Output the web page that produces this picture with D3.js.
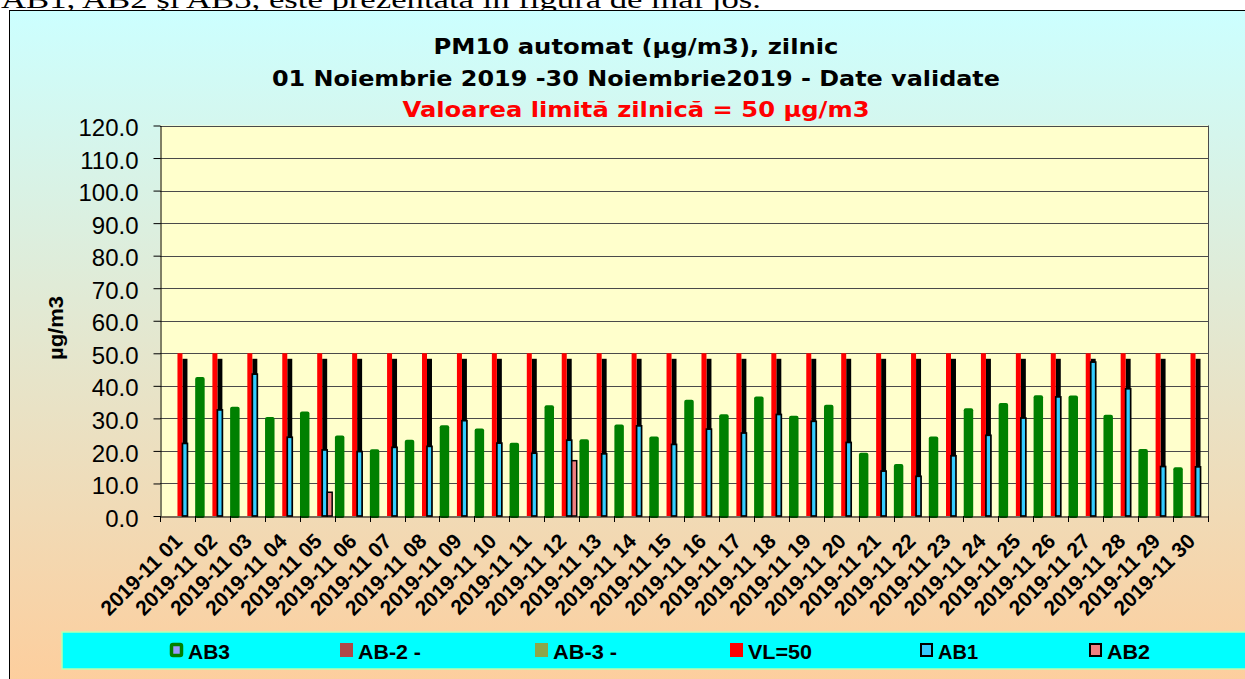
<!DOCTYPE html>
<html>
<head>
<meta charset="utf-8">
<script src="https://cdn.jsdelivr.net/npm/d3@7"></script>
<style>
  html, body { margin: 0; padding: 0; background: #ffffff; }
  svg { display: block; }
</style>
</head>
<body>
<div id="chart"></div>
<script>
// ---------------- DATA ----------------
const dates = ["2019-11 01","2019-11 02","2019-11 03","2019-11 04","2019-11 05","2019-11 06","2019-11 07","2019-11 08","2019-11 09","2019-11 10",
               "2019-11 11","2019-11 12","2019-11 13","2019-11 14","2019-11 15","2019-11 16","2019-11 17","2019-11 18","2019-11 19","2019-11 20",
               "2019-11 21","2019-11 22","2019-11 23","2019-11 24","2019-11 25","2019-11 26","2019-11 27","2019-11 28","2019-11 29","2019-11 30"];
const ab3 = [null, 42.7, 33.6, 30.4, 32.1, 24.7, 20.5, 23.4, 27.9, 26.9, 22.5, 34.0, 23.6, 28.1, 24.4,
             35.7, 31.3, 36.7, 30.8, 34.2, 19.4, 16.0, 24.4, 33.1, 34.7, 37.1, 37.0, 31.1, 20.6, 15.0];
const ab2dash = dates.map(() => null);
const ab3dash = dates.map(() => null);
const vl = [50,50,50,50,50,50,50,50,50,50,50,50,50,50,50,50,50,50,50,50,50,50,50,50,50,50,50,50,50,50];
const ab1 = [22.3, 32.6, 43.6, 24.2, 20.3, 19.8, 21.1, 21.4, 29.3, 22.4, 19.3, 23.3, 19.1, 27.7, 22.0,
             26.7, 25.5, 31.2, 29.1, 22.6, 13.8, 12.2, 18.5, 24.8, 30.1, 36.6, 47.3, 39.1, 15.2, 15.1];
const ab2 = [null, null, null, null, 7.3, null, null, null, null, null, null, 17.0, null, null, null,
             null, null, null, null, null, null, null, null, null, null, null, null, null, null, null];
const seriesNames = ["AB3", "AB-2 -", "AB-3 -", "VL=50", "AB1", "AB2"];
const yTicks = [0,10,20,30,40,50,60,70,80,90,100,110,120];
const titleLines = ["PM10 automat (µg/m3), zilnic", "01 Noiembrie 2019 -30 Noiembrie2019 - Date validate", "Valoarea limită zilnică = 50 µg/m3"];
const yTitle = "µg/m3";
const topText = "AB1, AB2 și AB3, este prezentată în figura de mai jos.";

// ---------------- STYLE / LAYOUT ----------------
const W = 1245, H = 679;
const plot = { left: 160, right: 1208, top: 125.5, bottom: 516 };
const colors = { "AB3": "#008000", "AB-2 -": "#b04848", "AB-3 -": "#8ea64a", "VL=50": "#ff0000", "AB1": "#33ccff", "AB2": "#f08080" };
const legendIconX = [170, 340, 535, 730, 920, 1089];
const legendTextLen = [42, 63, 64, 64, 40, 43];

const svg = d3.select("#chart").append("svg").attr("width", W).attr("height", H);
const defs = svg.append("defs");
const grad = defs.append("linearGradient").attr("id", "bg").attr("x1", 0).attr("y1", 0).attr("x2", 0).attr("y2", 1);
grad.append("stop").attr("offset", "0%").attr("stop-color", "#ccffff");
grad.append("stop").attr("offset", "100%").attr("stop-color", "#ffcc99");
defs.append("clipPath").attr("id", "plotclip").append("rect")
  .attr("x", plot.left).attr("y", plot.top).attr("width", plot.right - plot.left).attr("height", plot.bottom - plot.top);

// page text above the chart (cut off)
svg.append("text").attr("x", 1).attr("y", 8)
  .attr("font-family", "Liberation Serif, Times New Roman, serif").attr("font-size", 25)
  .attr("textLength", 760).attr("lengthAdjust", "spacingAndGlyphs")
  .text(topText);

// chart area frame
svg.append("rect").attr("x", 9.5).attr("y", 10.5).attr("width", 1260).attr("height", 700)
  .attr("fill", "url(#bg)").attr("stroke", "#000").attr("stroke-width", 1);

// titles
const titleBase = [54, 86, 117];
const titleLens = [405, 728, 467];
titleLines.forEach((t, i) => {
  svg.append("text").attr("x", 636).attr("y", titleBase[i]).attr("text-anchor", "middle")
    .attr("font-family", "DejaVu Sans, Verdana, sans-serif").attr("font-weight", "bold").attr("font-size", 21)
    .attr("fill", i === 2 ? "#ff0000" : "#000")
    .attr("textLength", titleLens[i]).attr("lengthAdjust", "spacingAndGlyphs")
    .text(t);
});

// scales
const x = d3.scaleBand().domain(dates).range([plot.left, plot.right]).padding(0);
const xs = d3.scaleBand().domain(seriesNames).range([0, x.bandwidth()]).paddingInner(0).paddingOuter(0.5);
const y = d3.scaleLinear().domain([0, 120]).range([plot.bottom, plot.top]);

// plot area
svg.append("rect").attr("x", plot.left).attr("y", plot.top).attr("width", plot.right - plot.left)
  .attr("height", plot.bottom - plot.top).attr("fill", "#ffffcc");

// gridlines
svg.append("g").selectAll("line").data(yTicks.filter(v => v > 0)).join("line")
  .attr("x1", plot.left).attr("x2", plot.right)
  .attr("y1", d => Math.round(y(d)) + 0.5).attr("y2", d => Math.round(y(d)) + 0.5)
  .attr("stroke", "#4a4a4a").attr("stroke-width", 1);
// right border
svg.append("line").attr("x1", plot.right + 0.5).attr("x2", plot.right + 0.5).attr("y1", plot.top).attr("y2", plot.bottom)
  .attr("stroke", "#4a4a4a");

const bars = svg.append("g").attr("clip-path", "url(#plotclip)");
const w = xs.bandwidth();

// VL shadow
const shadowDX = w, shadowDY = 5.5;
bars.append("g").selectAll("rect").data(dates.map((d, i) => ({ d, v: vl[i] })).filter(o => o.v != null)).join("rect")
  .attr("x", o => x(o.d) + xs("VL=50") + shadowDX)
  .attr("y", o => y(o.v) + shadowDY)
  .attr("width", w)
  .attr("height", o => plot.bottom - y(o.v))
  .attr("fill", "#000");

// VL bars
bars.append("g").selectAll("rect").data(dates.map((d, i) => ({ d, v: vl[i] })).filter(o => o.v != null)).join("rect")
  .attr("x", o => x(o.d) + xs("VL=50"))
  .attr("y", o => y(o.v))
  .attr("width", w)
  .attr("height", o => y(0) - y(o.v))
  .attr("fill", colors["VL=50"]);

// AB3 bars (thick green)
const gw = w * 1.9;
svg.append("g").selectAll("rect").data(dates.map((d, i) => ({ d, v: ab3[i] })).filter(o => o.v != null)).join("rect")
  .attr("x", o => x(o.d) + xs("AB3") + w / 2 - gw / 2)
  .attr("y", o => y(o.v))
  .attr("width", gw)
  .attr("height", o => y(0) - y(o.v) + 2)
  .attr("rx", 2).attr("ry", 2)
  .attr("fill", colors["AB3"]);

// AB1 bars
svg.append("g").selectAll("rect").data(dates.map((d, i) => ({ d, v: ab1[i] })).filter(o => o.v != null)).join("rect")
  .attr("x", o => x(o.d) + xs("AB1"))
  .attr("y", o => y(o.v))
  .attr("width", w)
  .attr("height", o => y(0) - y(o.v))
  .attr("fill", colors["AB1"]).attr("stroke", "#000").attr("stroke-width", 1.7);

// AB2 bars
svg.append("g").selectAll("rect").data(dates.map((d, i) => ({ d, v: ab2[i] })).filter(o => o.v != null)).join("rect")
  .attr("x", o => x(o.d) + xs("AB2"))
  .attr("y", o => y(o.v))
  .attr("width", w)
  .attr("height", o => y(0) - y(o.v))
  .attr("fill", colors["AB2"]).attr("stroke", "#000").attr("stroke-width", 1.5);

// y axis
const yAxis = svg.append("g").attr("transform", `translate(${plot.left + 0.5},0)`)
  .call(d3.axisLeft(y).tickValues(yTicks).tickFormat(d => d.toFixed(1)).tickSize(7).tickPadding(15).tickSizeOuter(0));
yAxis.select(".domain").attr("stroke", "#000");
yAxis.selectAll(".tick line").attr("stroke", "#000");
yAxis.selectAll(".tick text").attr("font-family", "Liberation Sans, Arial, sans-serif").attr("font-size", 24)
  .attr("fill", "#000").attr("dy", "0.42em");

// x axis
const xAxis = svg.append("g").attr("transform", `translate(0,${plot.bottom + 0.5})`)
  .call(d3.axisBottom(x).tickSize(0).tickPadding(0).tickSizeOuter(0));
xAxis.select(".domain").attr("stroke", "#000");
xAxis.selectAll(".tick text")
  .attr("font-family", "Liberation Sans, Arial, sans-serif").attr("font-weight", "bold").attr("font-size", 21)
  .attr("fill", "#000")
  .attr("text-anchor", "end")
  .attr("y", 0).attr("dy", 0)
  .attr("transform", "translate(6,26) rotate(-45)");
// category boundary ticks
svg.append("g").selectAll("line").data(dates.map(d => x(d)).concat([x.range()[1]])).join("line")
  .attr("x1", d => Math.round(d) + 0.5).attr("x2", d => Math.round(d) + 0.5)
  .attr("y1", plot.bottom).attr("y2", plot.bottom + 6)
  .attr("stroke", "#000");

// y title
svg.append("text").attr("transform", "translate(63,328) rotate(-90)").attr("text-anchor", "middle")
  .attr("font-family", "Liberation Sans, Arial, sans-serif").attr("font-weight", "bold").attr("font-size", 21)
  .attr("textLength", 64).attr("lengthAdjust", "spacingAndGlyphs")
  .text(yTitle);

// legend
svg.append("rect").attr("x", 62).attr("y", 632).attr("width", 1250).attr("height", 37)
  .attr("fill", "#00ffff").attr("stroke", "#b8ffb0").attr("stroke-width", 1.5);
const legend = svg.append("g");
seriesNames.forEach((name, i) => {
  const gx = legendIconX[i];
  const g = legend.append("g").attr("transform", `translate(${gx},643)`);
  if (name === "AB3") {
    g.append("rect").attr("x", 1.5).attr("y", 1.5).attr("width", 10).attr("height", 11).attr("rx", 1.5)
      .attr("fill", "#9999ff").attr("stroke", colors[name]).attr("stroke-width", 3.5);
  } else if (name === "AB1" || name === "AB2") {
    g.append("rect").attr("x", 1).attr("y", 1).attr("width", 11).attr("height", 12)
      .attr("fill", colors[name]).attr("stroke", "#000").attr("stroke-width", 2);
  } else {
    g.append("rect").attr("x", 0).attr("y", 0).attr("width", 13).attr("height", 14).attr("fill", colors[name]);
  }
  g.append("text").attr("x", 18).attr("y", 16)
    .attr("font-family", "Liberation Sans, Arial, sans-serif").attr("font-weight", "bold").attr("font-size", 21)
    .attr("fill", "#000")
    .attr("textLength", legendTextLen[i]).attr("lengthAdjust", "spacingAndGlyphs")
    .text(name);
});
</script>
</body>
</html>
